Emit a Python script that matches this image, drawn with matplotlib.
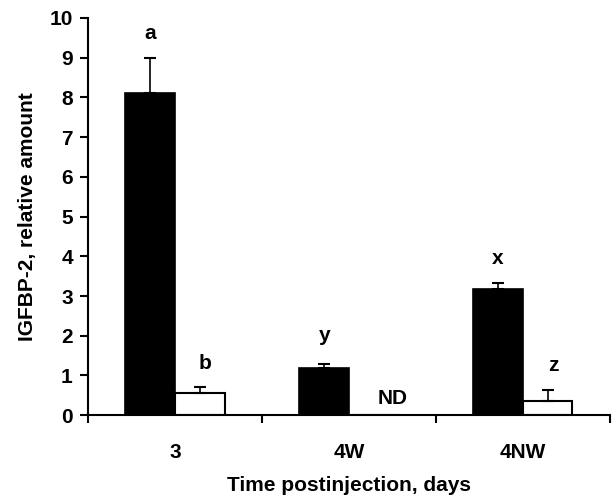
import matplotlib
matplotlib.use("Agg")
import matplotlib.pyplot as plt
import numpy as np

plt.rcParams['font.family'] = ['Liberation Sans', 'DejaVu Sans']
plt.rcParams['font.weight'] = 'bold'

groups = ['3', '4W', '4NW']
black_vals = [8.1, 1.18, 3.17]
black_err = [0.9, 0.1, 0.15]
white_vals = [0.55, 0.0, 0.35]
white_err = [0.15, 0.0, 0.28]
black_letters = ['a', 'y', 'x']
white_letters = ['b', 'ND', 'z']
black_letter_y = [9.6, 2.0, 3.95]
white_letter_y = [1.3, 0.43, 1.26]

fig = plt.figure(figsize=(6.16, 4.99), dpi=100)
ax = fig.add_axes([0.143, 0.168, 0.847, 0.796])

x = np.arange(len(groups))
w = 0.285
ax.bar(x - w, black_vals, w, align='edge', color='black', edgecolor='black', linewidth=1.2)
ax.bar(x, white_vals, w, align='edge', color='white', edgecolor='black', linewidth=1.5)

ekw = dict(fmt='none', ecolor='black', elinewidth=1.2, capsize=4, capthick=1.5)
ax.errorbar(x - w / 2, black_vals, yerr=[np.zeros(3), black_err], **ekw)
mask = np.array(white_vals) > 0
ax.errorbar((x + w / 2)[mask], np.array(white_vals)[mask],
            yerr=[np.zeros(mask.sum()), np.array(white_err)[mask]], **ekw)

for i in range(len(groups)):
    ax.text(x[i] - w / 2, black_letter_y[i], black_letters[i], ha='center', va='center',
            fontsize=15, fontweight='bold')
    # ND sits a bit right of where the bar would be
    dx = 0.11 if white_vals[i] == 0 else 0.03
    ax.text(x[i] + w / 2 + dx, white_letter_y[i], white_letters[i], ha='center', va='center',
            fontsize=15, fontweight='bold')

ax.set_xlim(-0.5, 2.5)
ax.set_ylim(0, 10)
ax.set_yticks(range(0, 11))
ax.set_xticks(x)
ax.set_xticklabels(groups)
ax.set_xticks([-0.5, 0.5, 1.5, 2.5], minor=True)
ax.tick_params(axis='x', which='major', length=0, pad=20, labelsize=15)
ax.tick_params(axis='x', which='minor', length=6, width=1.5, direction='out')
ax.tick_params(axis='y', length=6, width=1.5, direction='out', labelsize=15, pad=5)
for s in ['top', 'right']:
    ax.spines[s].set_visible(False)
for s in ['left', 'bottom']:
    ax.spines[s].set_linewidth(1.5)

ax.set_ylabel('IGFBP-2, relative amount', fontsize=15, fontweight='bold', labelpad=9)
ax.set_xlabel('Time postinjection, days', fontsize=15, fontweight='bold', labelpad=10)

fig.savefig('out.png', dpi=100)
